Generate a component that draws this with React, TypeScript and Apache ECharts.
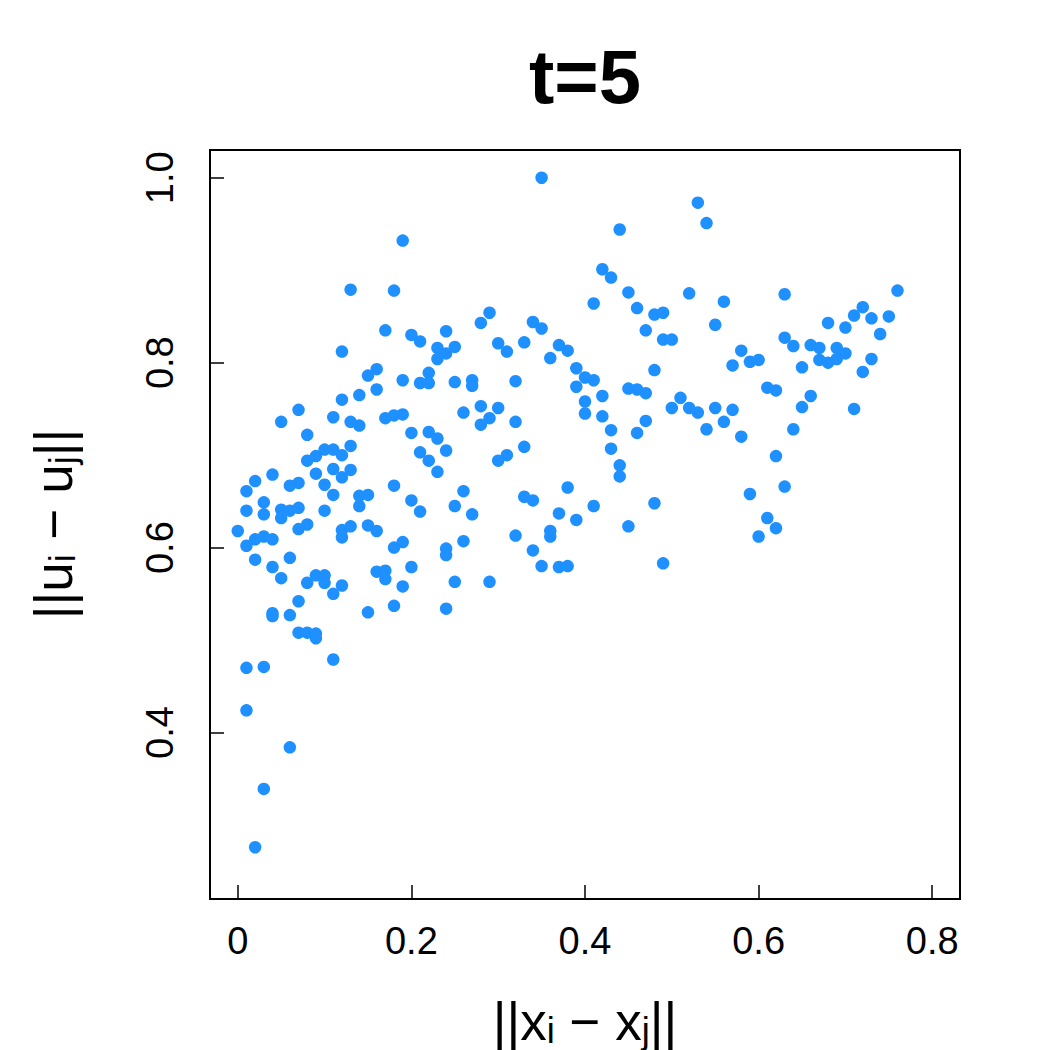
import React, { useEffect, useRef } from "react";
import * as echarts from "echarts";

// Distances between inputs ||x_i - x_j|| (x) and outputs ||u_i - u_j|| (y)
const distX: number[] = [
  0.19, 0.13, 0.18, 0.17, 0.24, 0.20, 0.21, 0.12, 0.23, 0.25, 0.24, 0.23, 0.16, 0.15, 0.22, 0.19, 0.21, 0.22, 0.25, 0.16, 0.14, 0.12,
  0.35, 0.44, 0.42, 0.43, 0.45, 0.52, 0.41, 0.46, 0.48, 0.49, 0.29, 0.28, 0.34, 0.35, 0.47, 0.49, 0.50, 0.30, 0.31, 0.33, 0.37, 0.38,
  0.36, 0.48, 0.39, 0.40, 0.41, 0.39, 0.27, 0.27, 0.32, 0.45, 0.46, 0.47, 0.42, 0.51, 0.40,
  0.53, 0.54, 0.56, 0.55, 0.63, 0.76, 0.72, 0.71, 0.73, 0.75, 0.68, 0.70, 0.74, 0.63, 0.64, 0.66, 0.67, 0.69, 0.70, 0.67, 0.68, 0.69,
  0.73, 0.72, 0.58, 0.57, 0.59, 0.60, 0.65, 0.61, 0.62, 0.66,
  0.52, 0.53, 0.55, 0.57, 0.54, 0.56, 0.58, 0.65, 0.64, 0.71, 0.62, 0.63, 0.59, 0.61, 0.62, 0.60,
  0.26, 0.28, 0.30, 0.29, 0.28, 0.32, 0.40, 0.42, 0.43, 0.47, 0.46, 0.50, 0.33, 0.31, 0.30, 0.43, 0.44, 0.44, 0.26, 0.25, 0.27, 0.33,
  0.34, 0.38, 0.37, 0.39, 0.41, 0.48, 0.36, 0.36, 0.32, 0.26, 0.45, 0.34, 0.35, 0.37, 0.38, 0.49, 0.25, 0.29,
  0.07, 0.05, 0.11, 0.13, 0.14, 0.17, 0.18, 0.19, 0.08, 0.20, 0.22, 0.23, 0.24, 0.13, 0.10, 0.11, 0.12, 0.09, 0.08, 0.21, 0.22, 0.23,
  0.11, 0.13, 0.12, 0.09, 0.04, 0.02, 0.01, 0.07, 0.06, 0.10, 0.11, 0.18, 0.14, 0.15, 0.14, 0.20, 0.21,
  0.03, 0.01, 0.03, 0.05, 0.05, 0.06, 0.07, 0.10,
  0.00, 0.01, 0.02, 0.03, 0.04, 0.07, 0.08, 0.12, 0.13, 0.12, 0.15, 0.16, 0.18, 0.19, 0.24, 0.24,
  0.02, 0.06, 0.04, 0.05, 0.08, 0.09, 0.10, 0.10, 0.12, 0.11, 0.16, 0.17, 0.17, 0.19, 0.20,
  0.07, 0.04, 0.04, 0.06, 0.15, 0.18, 0.24,
  0.07, 0.08, 0.09, 0.09, 0.11, 0.01, 0.03, 0.01, 0.06, 0.03, 0.02,
];

const distU: number[] = [
  0.932, 0.879, 0.878, 0.835, 0.834, 0.830, 0.823, 0.812, 0.816, 0.817, 0.810, 0.804, 0.793, 0.786, 0.789, 0.781, 0.778, 0.778, 0.779, 0.771, 0.765, 0.760,
  1.000, 0.944, 0.901, 0.892, 0.876, 0.875, 0.864, 0.859, 0.852, 0.854, 0.854, 0.843, 0.844, 0.837, 0.835, 0.825, 0.825, 0.821, 0.812, 0.822, 0.819, 0.813,
  0.805, 0.792, 0.794, 0.784, 0.781, 0.774, 0.781, 0.775, 0.780, 0.772, 0.771, 0.767, 0.764, 0.762, 0.758,
  0.973, 0.951, 0.866, 0.841, 0.874, 0.878, 0.860, 0.851, 0.848, 0.850, 0.843, 0.838, 0.831, 0.827, 0.818, 0.819, 0.816, 0.816, 0.810, 0.803, 0.800, 0.804,
  0.804, 0.790, 0.813, 0.797, 0.801, 0.803, 0.795, 0.773, 0.770, 0.764,
  0.751, 0.746, 0.751, 0.749, 0.728, 0.736, 0.720, 0.752, 0.728, 0.750, 0.699, 0.666, 0.658, 0.632, 0.621, 0.612,
  0.746, 0.753, 0.751, 0.740, 0.733, 0.736, 0.745, 0.742, 0.727, 0.737, 0.724, 0.751, 0.709, 0.700, 0.694, 0.707, 0.689, 0.677, 0.661, 0.645, 0.636, 0.655,
  0.651, 0.665, 0.637, 0.630, 0.645, 0.648, 0.618, 0.612, 0.613, 0.607, 0.623, 0.597, 0.580, 0.579, 0.580, 0.583, 0.563, 0.563,
  0.749, 0.736, 0.741, 0.736, 0.732, 0.740, 0.743, 0.744, 0.722, 0.724, 0.725, 0.718, 0.705, 0.710, 0.706, 0.706, 0.700, 0.699, 0.694, 0.703, 0.694, 0.682,
  0.685, 0.684, 0.676, 0.680, 0.679, 0.672, 0.661, 0.670, 0.667, 0.668, 0.657, 0.667, 0.656, 0.657, 0.645, 0.651, 0.639,
  0.649, 0.640, 0.636, 0.641, 0.632, 0.640, 0.643, 0.640,
  0.618, 0.602, 0.609, 0.612, 0.609, 0.620, 0.625, 0.619, 0.623, 0.611, 0.624, 0.618, 0.600, 0.606, 0.599, 0.592,
  0.587, 0.589, 0.579, 0.567, 0.562, 0.570, 0.570, 0.562, 0.559, 0.550, 0.574, 0.575, 0.566, 0.558, 0.579,
  0.542, 0.529, 0.526, 0.527, 0.530, 0.537, 0.534,
  0.508, 0.508, 0.507, 0.502, 0.479, 0.470, 0.471, 0.424, 0.384, 0.339, 0.276,
];

const xTicks: number[] = [0, 0.2, 0.4, 0.6, 0.8];
const yTicks: number[] = [0.4, 0.6, 0.8, 1.0];
const xLabels: string[] = ["0", "0.2", "0.4", "0.6", "0.8"];
const yLabels: string[] = ["0.4", "0.6", "0.8", "1.0"];
const titleText = "t=5";

const FONT = "'Liberation Sans', Arial, Helvetica, sans-serif";

function buildOption() {
  const points = distX.map((x, i) => [x, distU[i]]);
  const axisTitleRich = {
    m: { fontSize: 53, fontFamily: FONT, fill: "#000", color: "#000", lineHeight: 60, verticalAlign: "bottom" },
    s: { fontSize: 36, fontFamily: FONT, fill: "#000", color: "#000", lineHeight: 26, verticalAlign: "bottom" },
  };
  return {
    animation: false,
    backgroundColor: "#ffffff",
    grid: {
      left: 210,
      top: 150,
      width: 750,
      height: 749,
      show: true,
      borderColor: "#000",
      borderWidth: 2,
      backgroundColor: "transparent",
    },
    xAxis: {
      type: "value",
      min: -0.032,
      max: 0.832,
      axisLine: { show: false, onZero: false },
      splitLine: { show: false },
      axisTick: {
        show: true,
        inside: true,
        length: 14,
        customValues: xTicks,
        lineStyle: { color: "#000", width: 1.5 },
      },
      axisLabel: {
        customValues: xTicks,
        formatter: (v: number) => xLabels[xTicks.findIndex((t) => Math.abs(t - v) < 1e-9)] ?? String(v),
        fontSize: 38,
        fontFamily: FONT,
        color: "#000",
        margin: 23,
      },
    },
    yAxis: {
      type: "value",
      min: 0.22,
      max: 1.03,
      axisLine: { show: false, onZero: false },
      splitLine: { show: false },
      axisTick: {
        show: true,
        inside: true,
        length: 14,
        customValues: yTicks,
        lineStyle: { color: "#000", width: 1.5 },
      },
      axisLabel: {
        customValues: yTicks,
        formatter: (v: number) => yLabels[yTicks.findIndex((t) => Math.abs(t - v) < 1e-9)] ?? String(v),
        fontSize: 38,
        fontFamily: FONT,
        color: "#000",
        rotate: 90,
        margin: 31,
      },
    },
    graphic: [
      {
        type: "text",
        x: 585,
        y: 76,
        style: {
          text: titleText,
          fontSize: 76,
          fontWeight: "bold",
          fontFamily: FONT,
          fill: "#000",
          align: "center",
          verticalAlign: "middle",
        },
      },
      {
        type: "text",
        x: 585,
        y: 1018,
        style: {
          text: "{m|||x}{s|i}{m| − x}{s|j}{m|||}",
          rich: axisTitleRich,
          fill: "#000",
          align: "center",
          verticalAlign: "middle",
        },
      },
      {
        type: "text",
        x: 50,
        y: 524,
        rotation: Math.PI / 2,
        style: {
          text: "{m|||u}{s|i}{m| − u}{s|j}{m|||}",
          rich: axisTitleRich,
          fill: "#000",
          align: "center",
          verticalAlign: "middle",
        },
      },
    ],
    series: [
      {
        type: "scatter",
        data: points,
        symbol: "circle",
        symbolSize: 12.5,
        itemStyle: { color: "#1E90FF", opacity: 1 },
        emphasis: { disabled: true },
      },
    ],
  };
}

export default function App() {
  const ref = useRef<HTMLDivElement>(null);
  useEffect(() => {
    if (!ref.current) return;
    const chart = echarts.init(ref.current, null, { renderer: "svg" });
    chart.setOption(buildOption() as any);
    return () => {
      chart.dispose();
    };
  }, []);
  return (
    <div
      ref={ref}
      style={{ position: "absolute", left: 0, top: 0, width: 1050, height: 1050, background: "#fff" }}
    />
  );
}
